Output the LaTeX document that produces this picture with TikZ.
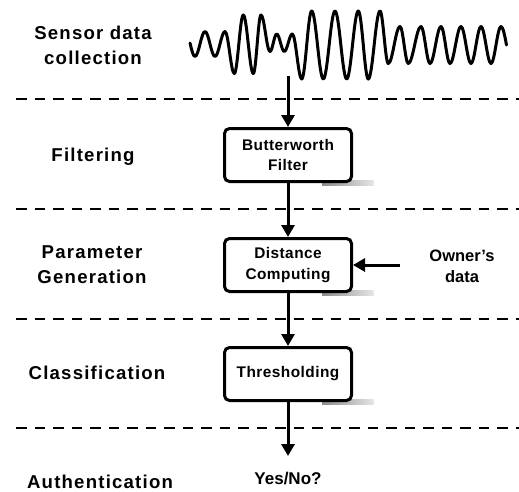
\documentclass[tikz,border=0pt]{standalone}
\usepackage{fontspec}
\setmainfont{Liberation Sans}
\newfontfamily\stagefam[LetterSpace=6.5]{Liberation Sans}
\newfontfamily\boxfam[LetterSpace=3]{Liberation Sans}
\usetikzlibrary{arrows.meta,backgrounds}
\begin{document}
\begin{tikzpicture}[x=1pt,y=-1pt,
  sep/.style={line width=2pt, dash pattern=on 10.5pt off 8pt},
  flow/.style={line width=3pt, -{Triangle[length=12pt,width=13pt]}},
  procbox/.style={draw, line width=3pt, rounded corners=5pt, fill=white,
    minimum width=127pt, minimum height=53pt, align=center, inner sep=0pt,
    font={\boxfam\bfseries\fontsize{15.4}{20.5}\selectfont}},
  stage/.style={align=center, inner sep=0pt,
    font={\stagefam\bfseries\fontsize{18.6}{25}\selectfont}},
  plain/.style={align=center, inner sep=0pt,
    font={\bfseries\fontsize{16.5}{21}\selectfont}},
  wave/.style={line width=3pt, line join=round, line cap=round},
  shadowstrip/.style={left color=black!45, right color=black!10}
]
\useasboundingbox (0,0) rectangle (519,491);

% separators
\draw[sep] (16,99) -- (519,99);
\draw[sep] (16,209) -- (519,209);
\draw[sep] (16,318.5) -- (519,318.5);
\draw[sep] (16,427.5) -- (519,427.5);

% stage labels
\node[stage] (s1) at (93,45) {Sensor data\\collection};
\node[stage] (s2) at (93,157) {Filtering};
\node[stage] (s3) at (92,265) {Parameter\\Generation};
\node[stage] (s4) at (97,373) {Classification};
\node[stage] (s5) at (100,482) {Authentication};

% waveform
\draw[wave] (190,43) sin (195,56.5) cos (200,44) sin (205,31.5) cos (210,44) sin (215,56.5) cos (220,44) sin (225,31.5) cos (229.65,52.5) sin (234.3,73.5) cos (238.8,44.25) sin (243.3,15) cos (248.3,44.25) sin (253.3,73.5) cos (257.15,44.25) sin (261,15) cos (265.5,33.25) sin (270,51.5) cos (273.35,42.75) sin (276.7,34) cos (280.5,42.75) sin (284.3,51.5) cos (288.3,42.75) sin (292.3,34) cos (297,56.5) sin (301.7,79) cos (306.7,45) sin (311.7,11) cos (317.5,45) sin (323.3,79) cos (329.15,45) sin (335,11) cos (340.85,45) sin (346.7,79) cos (352.5,45) sin (358.3,11) cos (363.3,45) sin (368.3,79) cos (374.15,45) sin (380,11) cos (384.15,37.25) sin (388.3,63.5) cos (394.15,45) sin (400,26.5) cos (404.15,45) sin (408.3,63.5) cos (414.65,45) sin (421,26.5) cos (425.5,45) sin (430,63.5) cos (435.5,45) sin (441,26.5) cos (445.5,45) sin (450,63.5) cos (455.5,45) sin (461,26.5) cos (466,45) sin (471,63.5) cos (476,45) sin (481,26.5) cos (486,45) sin (491,63.5) cos (496,45) sin (501,26.5) cos (506.5,45);

% process boxes
\node[procbox] (b1) at (288,155) {Butterworth\\Filter};
\node[procbox] (b2) at (288,265) {Distance\\Computing};
\node[procbox] (b3) at (288,374) {Thresholding};

\begin{scope}[on background layer]
  \foreach \b in {b1,b2,b3}
    \shade[shadowstrip] ([xshift=-31pt,yshift=2.5pt]\b.south east) rectangle ([xshift=20.5pt,yshift=-2.5pt]\b.south east);
\end{scope}

\node[plain] (own) at (462,266) {Owner’s\\data};
\node[plain, font={\bfseries\fontsize{17}{21}\selectfont}] (yn) at (288,478) {Yes/No?};

\coordinate (wavebot) at (288,76);
\coordinate (ownstart) at (400,265);
\coordinate (ynend) at (288,456);

\draw[flow] (wavebot) -- (b1.north);
\draw[flow] (b1) -- (b2);
\draw[flow] (b2) -- (b3);
\draw[flow] (b3) -- (ynend);
\draw[flow] (ownstart) -- (b2.east);
\end{tikzpicture}
\end{document}
